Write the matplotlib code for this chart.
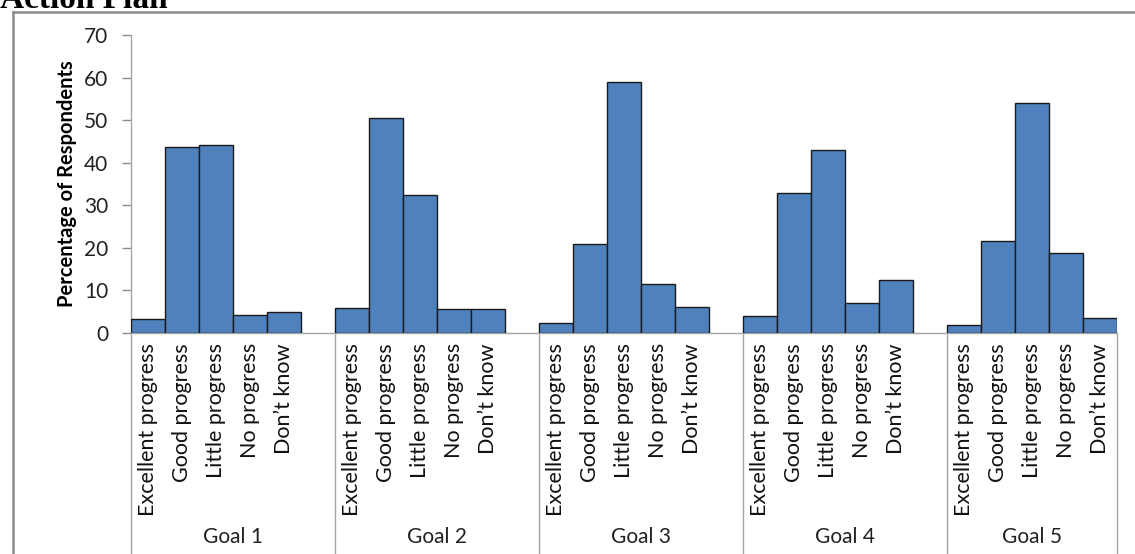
import numpy as np
import matplotlib.pyplot as plt
from matplotlib.lines import Line2D

# progress ratings per goal (percent of respondents)
goals = ["Goal 1", "Goal 2", "Goal 3", "Goal 4", "Goal 5"]
ratings = ["Excellent progress", "Good progress", "Little progress",
           "No progress", "Don't know"]
goal1 = [3.3, 43.7, 44.2, 4.2, 4.9]
goal2 = [5.8, 50.6, 32.5, 5.6, 5.6]
goal3 = [2.4, 21.0, 59.0, 11.5, 6.1]
goal4 = [4.1, 33.0, 42.9, 7.1, 12.4]
goal5 = [1.9, 21.6, 54.0, 18.7, 3.5]
values = [goal1, goal2, goal3, goal4, goal5]

plt.rcParams['font.family'] = ['Lato', 'DejaVu Sans']

fig = plt.figure(figsize=(11.35, 5.54), dpi=100)
ax = fig.add_axes([0.1154, 0.3989, 0.8687, 0.5379])

# each goal takes 5 slots plus one blank slot before the next goal
slot = 6
n_slots = slot * len(goals) - 1
for g, vals in enumerate(values):
    xs = g * slot + np.arange(len(ratings)) + 0.5
    ax.bar(xs, vals, width=1.0, color="#4F81BD", edgecolor="#1a1a1a",
           linewidth=1.0, zorder=3)
    for x, lab in zip(xs, ratings):
        ax.text(x, -2.4, lab.replace("'", "\u2019"), rotation=90, ha="center",
                va="top", fontsize=15.5, color="#111111")
    ax.text(g * slot + min(slot, n_slots - g * slot) / 2, -48.0, goals[g],
            ha="center", va="center", fontsize=15, color="#222222")

# group separators below the axis
for b in list(range(0, n_slots, slot)) + [n_slots]:
    ax.add_line(Line2D([b, b], [0, -60], color="#a6a6a6", linewidth=1.0,
                       clip_on=False))

ax.set_xlim(0, n_slots)
ax.set_ylim(0, 70)
ax.set_yticks(range(0, 71, 10))
ax.set_xticks([])
ax.tick_params(axis="y", direction="out", length=6.5, width=1.0,
               color="#8c8c8c", labelsize=15, pad=10, labelcolor="#222222")
for s in ("top", "right"):
    ax.spines[s].set_visible(False)
for s in ("left", "bottom"):
    ax.spines[s].set_color("#a6a6a6")
    ax.spines[s].set_linewidth(1.0)
ax.set_ylabel("Percentage of Respondents", fontsize=14.5, fontweight="bold",
              labelpad=5)

# chart border and heading above it
fig.add_artist(Line2D([13 / 1135, 13 / 1135], [0, 1 - 12 / 554],
                      color="#8c8c8c", linewidth=1.8))
fig.add_artist(Line2D([13 / 1135, 1], [1 - 12 / 554, 1 - 12 / 554],
                      color="#8c8c8c", linewidth=1.8))
fig.text(0.0, 1 - 8 / 554, "Action Plan", family="Liberation Serif",
         fontweight="bold", fontsize=24, va="baseline", ha="left")

fig.savefig("out.png", dpi=100)
